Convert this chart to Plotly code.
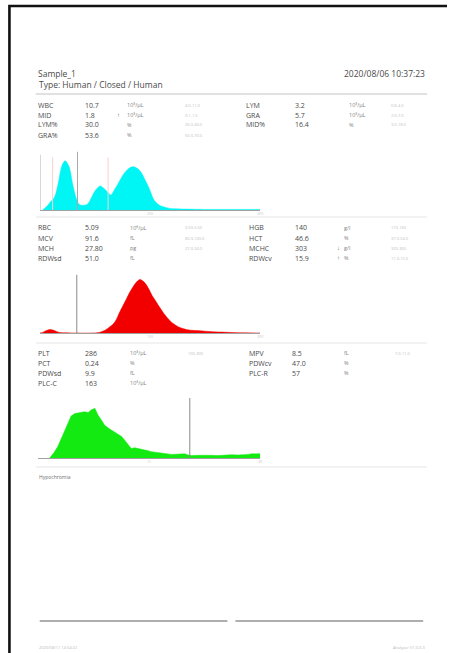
import plotly.graph_objects as go

W, H = 450, 653

# ---------------- data ----------------
sample_name = "Sample_1"
sample_type = "Type: Human / Closed / Human"
sample_time = "2020/08/06 10:37:23"
comment_text = "Hypochromia"
footer_left = "2020/08/11 14:54:22"
footer_right = "Analyzer V1.0.0.3"

wbc_left_labels = ["WBC", "MID", "LYM%", "GRA%"]
wbc_left_values = ["10.7", "1.8", "30.0", "53.6"]
wbc_left_flags = ["", "↑", "", ""]
wbc_left_units = ["10³/µL", "10³/µL", "%", "%"]
wbc_left_ranges = ["4.0-11.0", "0.1-1.5", "20.0-40.0", "50.0-70.0"]
wbc_right_labels = ["LYM", "GRA", "MID%"]
wbc_right_values = ["3.2", "5.7", "16.4"]
wbc_right_flags = ["", "", ""]
wbc_right_units = ["10³/µL", "10³/µL", "%"]
wbc_right_ranges = ["0.8-4.0", "2.0-7.0", "3.0-18.0"]

rbc_left_labels = ["RBC", "MCV", "MCH", "RDWsd"]
rbc_left_values = ["5.09", "91.6", "27.80", "51.0"]
rbc_left_flags = ["", "", "", ""]
rbc_left_units = ["10⁶/µL", "fL", "pg", "fL"]
rbc_left_ranges = ["3.50-5.50", "80.0-100.0", "27.0-34.0", ""]
rbc_right_labels = ["HGB", "HCT", "MCHC", "RDWcv"]
rbc_right_values = ["140", "46.6", "303", "15.9"]
rbc_right_flags = ["", "", "↓", "↑"]
rbc_right_units = ["g/l", "%", "g/l", "%"]
rbc_right_ranges = ["110-160", "37.0-54.0", "320-360", "11.0-15.0"]

plt_left_labels = ["PLT", "PCT", "PDWsd", "PLC-C"]
plt_left_values = ["286", "0.24", "9.9", "163"]
plt_left_flags = ["", "", "", ""]
plt_left_units = ["10³/µL", "%", "fL", "10³/µL"]
plt_left_ranges = ["100-300", "", "", ""]
plt_right_labels = ["MPV", "PDWcv", "PLC-R"]
plt_right_values = ["8.5", "47.0", "57"]
plt_right_flags = ["", "", ""]
plt_right_units = ["fL", "%", "%"]
plt_right_ranges = ["7.0-11.0", "", ""]

# histograms (x in fL, y relative counts)
wbc_x = [5, 9, 14, 18, 23, 27, 33, 39, 43, 46, 50, 54, 60, 66, 71, 75, 81, 87, 93, 99,
         105, 110, 115, 120, 125, 129, 135, 141, 147, 153, 160, 168, 176, 183, 190, 198,
         207, 213, 219, 226, 234, 248, 264, 300, 340, 400]
wbc_y = [0, 3, 7, 12, 17, 22, 42, 70, 79, 82, 78, 70, 42, 20, 10, 8, 8, 10, 19, 30,
         37, 40, 37, 33, 28, 25, 33, 42, 52, 61, 68, 72, 70, 64, 52, 37,
         17, 11, 7, 5, 3, 2, 1.5, 1, 1, 1]
wbc_range = [0, 400]
wbc_ticks = [200, 400]
wbc_lines_x = [1.3, 23.4, 68.5, 124]
wbc_lines_h = [92, 88, 97, 88]
wbc_lines_col = ["#d6d6d6", "#f6d2d2", "#a8a8a8", "#f6d2d2"]

rbc_x = [0, 4, 7, 11, 14, 18, 22, 27, 35, 50, 70, 81, 88, 95, 100, 104, 108, 113, 118, 122,
         127, 131, 136, 140, 144, 149, 153, 158, 162, 167, 171, 176, 180, 185, 189, 196,
         203, 214, 225, 236, 248, 262, 280, 300]
rbc_y = [0, 1, 3, 5, 6, 5, 3, 1, 0.3, 0, 0, 1, 4, 10, 15, 22, 33, 45, 57, 67,
         77, 84, 89, 87, 82, 72, 62, 53, 45, 36, 29, 22, 17, 13, 10, 7,
         5, 4, 3, 2, 1.5, 0.8, 0.3, 0]
rbc_range = [0, 300]
rbc_ticks = [150, 300]
rbc_lines_x = [50.4]
rbc_lines_h = [97]
rbc_lines_col = ["#8a8a8a"]

plt_x = [1.6, 2.2, 2.7, 3.2, 3.6, 4.1, 4.5, 5.0, 5.4, 5.9, 6.3, 6.8, 7.2, 7.7, 8.1, 8.6, 9.0,
         9.5, 9.9, 10.4, 10.8, 11.3, 11.7, 12.2, 12.6, 13.1, 13.5, 14.0, 14.4, 14.9, 15.3,
         16.0, 16.7, 17.4, 18.0, 18.9, 19.8, 20.3, 20.7, 21.6, 22.5, 23.4, 24.3, 25.2, 26.1,
         27.0, 27.9, 28.4, 28.8, 29.4, 30.0]
plt_y = [0, 9, 19, 33, 47, 60, 70, 74, 75, 76, 77, 76, 80, 83, 72, 63, 55,
         50, 47, 44, 41, 36, 30, 22, 16, 17, 16, 15, 14.5, 12, 10.5,
         9, 8, 7, 6, 6.5, 7, 5, 4, 4.5, 5, 4.5, 4, 5, 5.5,
         5, 5, 6, 7, 7, 7]
plt_range = [0, 30]
plt_ticks = [15, 30]
plt_lines_x = [20.5]
plt_lines_h = [100]
plt_lines_col = ["#8a8a8a"]

# ---------------- layout helpers ----------------
FONT = "Open Sans"
TXT = "#4a4a4a"


def px(x):
    return x / W


def py(y):
    return 1 - y / H


fig = go.Figure()
annotations = []
shapes = []


def text(x, y, s, size=7, color=TXT, anchor="left"):
    if s == "":
        return
    annotations.append(dict(
        x=px(x), y=py(y), xref="paper", yref="paper", text=s, showarrow=False,
        xanchor=anchor, yanchor="middle", borderpad=0,
        font=dict(family=FONT, size=size, color=color)))


def hline(y, x0, x1, color="#c8c8c8", width=1):
    shapes.append(dict(type="line", xref="paper", yref="paper",
                       x0=px(x0), x1=px(x1), y0=py(y), y1=py(y),
                       line=dict(color=color, width=width)))


def block(rows_y, col, labels, values, flags, units, ranges):
    lx, vx, fx, ux, rx = col
    for i, lab in enumerate(labels):
        y = rows_y[i]
        text(lx, y, lab)
        text(vx, y, values[i])
        text(fx, y, flags[i], size=6, color="#777")
        text(ux, y, units[i], size=5.5, color="#808080")
        text(rx, y, ranges[i], size=4, color="#bdbdbd")


# page border: one open path (left edge up, then along the top)
border_path = "M {:.5f},{:.5f} L {:.5f},{:.5f} L {:.5f},{:.5f}".format(
    px(9.5), py(653), px(9.5), py(6), px(450), py(6))
shapes.append(dict(type="path", xref="paper", yref="paper", path=border_path,
                   line=dict(color="#111", width=2.6), fillcolor="rgba(0,0,0,0)"))

# header
text(37, 73, sample_name, size=8.5)
text(429, 73, sample_time, size=8.5, anchor="right")
text(38, 85, sample_type, size=8.5)
hline(94, 36, 430, color="#c4c4c4", width=1.2)

# WBC block
block([105, 115, 125, 135], (37, 85, 117, 127, 185),
      wbc_left_labels, wbc_left_values, wbc_left_flags, wbc_left_units, wbc_left_ranges)
block([105, 115, 125, 135], (247, 296, 338, 350, 393),
      wbc_right_labels, wbc_right_values, wbc_right_flags, wbc_right_units, wbc_right_ranges)
hline(217, 36, 430, color="#e6e6e6")

# RBC block
block([228, 238, 248, 258], (37, 85, 119, 130, 185),
      rbc_left_labels, rbc_left_values, rbc_left_flags, rbc_left_units, rbc_left_ranges)
block([228, 238, 248, 258], (250, 296, 338, 345, 393),
      rbc_right_labels, rbc_right_values, rbc_right_flags, rbc_right_units, rbc_right_ranges)
hline(343, 36, 430, color="#e6e6e6")

# PLT block
block([353, 363, 373, 383], (37, 85, 119, 130, 188),
      plt_left_labels, plt_left_values, plt_left_flags, plt_left_units, plt_left_ranges)
block([353, 363, 373, 383], (250, 293, 338, 345, 397),
      plt_right_labels, plt_right_values, plt_right_flags, plt_right_units, plt_right_ranges)
hline(467, 36, 430, color="#e6e6e6")

text(38, 477, comment_text, size=5, color="#707070")

# signature lines
hline(621, 40, 229, color="#939393", width=1.5)
hline(621, 237, 426, color="#939393", width=1.5)

text(38, 647, footer_left, size=4, color="#b8b8b8")
text(429, 647, footer_right, size=4, color="#b8b8b8", anchor="right")

# ---------------- histograms ----------------
panels = [
    ("x", "y", wbc_x, wbc_y, wbc_range, wbc_ticks, wbc_lines_x, wbc_lines_h, wbc_lines_col,
     "#00f5f5", "spline", 150, 210, 40),
    ("x2", "y2", rbc_x, rbc_y, rbc_range, rbc_ticks, rbc_lines_x, rbc_lines_h, rbc_lines_col,
     "#f20000", "spline", 273, 333, 40),
    ("x3", "y3", plt_x, plt_y, plt_range, plt_ticks, plt_lines_x, plt_lines_h, plt_lines_col,
     "#12ea12", "linear", 398, 458, 38),
]

for i, (xa, ya, hx, hy, rng, ticks, lx, lh, lc, color, shape, top, base, left) in enumerate(panels):
    fig.add_trace(go.Scatter(x=hx, y=hy, xaxis=xa, yaxis=ya, mode="lines",
                             line=dict(color=color, width=0.5, shape=shape),
                             fill="tozeroy", fillcolor=color, hoverinfo="skip",
                             showlegend=False))
    for j in range(len(lx)):
        fig.add_trace(go.Scatter(x=[lx[j], lx[j]], y=[0, lh[j]], xaxis=xa, yaxis=ya,
                                 mode="lines", line=dict(color=lc[j], width=1),
                                 hoverinfo="skip", showlegend=False))
    suffix = "" if i == 0 else str(i + 1)
    fig.update_layout(**{
        "xaxis" + suffix: dict(domain=[px(left), px(262)], range=rng, anchor=ya,
                               showline=True, linecolor="#a0a0a0", linewidth=1,
                               showgrid=False, zeroline=False, ticks="",
                               tickvals=ticks, ticktext=[str(t) for t in ticks],
                               tickfont=dict(family=FONT, size=3.5, color="#c8c8c8"),
                               fixedrange=True),
        "yaxis" + suffix: dict(domain=[py(base), py(top)], range=[0, 100], anchor=xa,
                               visible=False, fixedrange=True),
    })

fig.update_layout(
    width=W, height=H, autosize=False,
    margin=dict(l=0, r=0, t=0, b=0, pad=0),
    paper_bgcolor="white", plot_bgcolor="rgba(0,0,0,0)",
    annotations=annotations, shapes=shapes, showlegend=False,
)

fig.write_html("out.html", config={"displayModeBar": False},
               post_script="document.body.style.margin='0';document.documentElement.style.overflow='hidden';")
